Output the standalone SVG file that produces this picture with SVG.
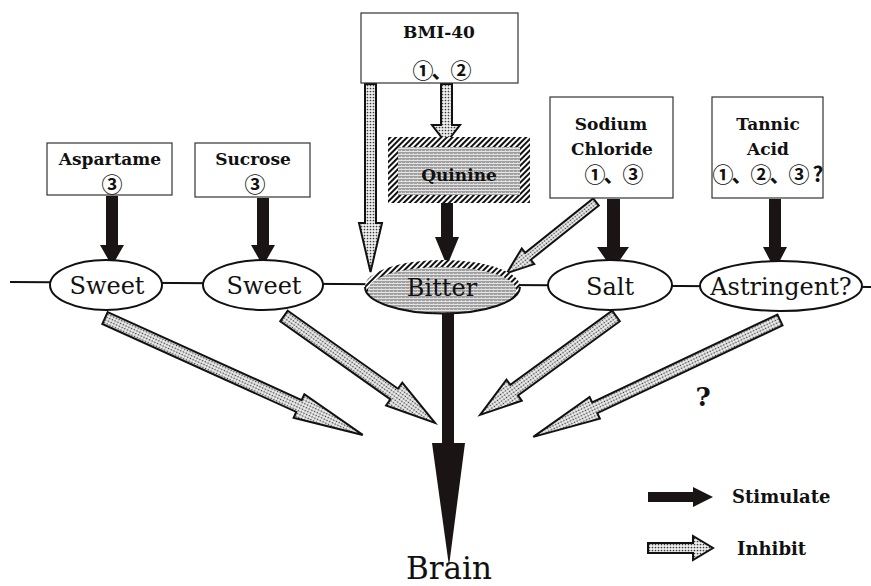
<svg xmlns="http://www.w3.org/2000/svg" width="871" height="586" viewBox="0 0 871 586">
<defs>
<pattern id="dots" width="3" height="3" patternUnits="userSpaceOnUse">
<rect width="3" height="3" fill="#efefef"/>
<circle cx="1.5" cy="1.5" r="0.85" fill="#3a3a3a"/>
</pattern>
<pattern id="gray" width="4" height="3" patternUnits="userSpaceOnUse">
<rect width="4" height="3" fill="#a0a0a0"/>
<rect y="1" width="4" height="1" fill="#e4e4e4"/>
<rect x="1" y="0" width="1" height="1" fill="#d0d0d0"/>
</pattern>
<pattern id="hatch" width="4" height="4" patternUnits="userSpaceOnUse" patternTransform="rotate(45)">
<rect width="4" height="4" fill="#fff"/>
<rect width="2" height="4" fill="#111"/>
</pattern>
</defs>
<style>
.box{fill:#fff;stroke:#333;stroke-width:1.2}
.ell{fill:#fff;stroke:#111;stroke-width:2}
.stim{fill:#1a1414;stroke:none}
.inh{fill:url(#dots);stroke:#111;stroke-width:2;stroke-linejoin:miter}
.bl{font-family:"DejaVu Serif","Liberation Serif",serif;font-weight:bold;font-size:17px;fill:#111;text-anchor:middle}
.num{font-family:"Noto Sans CJK JP","DejaVu Sans",sans-serif;font-weight:bold;font-size:21px;letter-spacing:-2px;fill:#111;text-anchor:middle}
.lab{font-family:"DejaVu Serif","Liberation Serif",serif;font-size:24px;fill:#111;text-anchor:middle}
.leg{font-family:"DejaVu Serif","Liberation Serif",serif;font-weight:bold;font-size:18px;fill:#111}
</style>

<g id="connectors">
<line x1="10" y1="282" x2="871" y2="287" stroke="#111" stroke-width="2"/>
<polygon class="stim" points="106,196 118,196 118,245 124,245 112,266 100,245 106,245"/>
<polygon class="stim" points="257,198 269,198 269,245 275,245 263,266 251,245 257,245"/>
<polygon class="stim" points="441,203 453,203 453,237 459,237 447,266 435,237 441,237"/>
<polygon class="stim" points="607,199 620,199 620,247 629,247 613,270 597,247 607,247"/>
<polygon class="stim" points="769,199 781,199 781,247 787,247 775,270 763,247 769,247"/>
<polygon class="inh" points="365,84 376,84 376,223 382,223 370.5,272 359,223 365,223"/>
<polygon class="inh" points="441,84 452,84 452,125 460,125 446,143 432,125 441,125"/>
<polygon class="inh" points="0,-4.5 87,-4.5 87,-10 114,0 87,10 87,4.5 0,4.5" transform="translate(596,202) rotate(141.4)"/>
</g>

<g id="bmi40">
<rect class="box" x="361" y="13" width="157" height="70"/>
<text class="bl" x="439" y="38" font-size="18">BMI-40</text>
<text class="num" x="441" y="78">①、②</text>
</g>

<g id="aspartame">
<rect class="box" x="47" y="143" width="125" height="52"/>
<text class="bl" x="110" y="165">Aspartame</text>
<text class="num" x="111" y="192" font-size="19">③</text>
</g>

<g id="sucrose">
<rect class="box" x="195" y="143" width="115" height="54"/>
<text class="bl" x="253" y="165">Sucrose</text>
<text class="num" x="254" y="192" font-size="19">③</text>
</g>

<g id="quinine">
<rect x="388" y="137" width="142" height="66" fill="url(#hatch)"/>
<rect x="398" y="147" width="122" height="48" fill="url(#gray)"/>
<text class="bl" x="459" y="181" font-size="16.5">Quinine</text>
</g>

<g id="sodium">
<rect class="box" x="550" y="97" width="123" height="101"/>
<text class="bl" x="611" y="130">Sodium</text>
<text class="bl" x="612" y="155">Chloride</text>
<text class="num" x="613" y="182">①、③</text>
</g>

<g id="tannic">
<rect class="box" x="712" y="97" width="111" height="101"/>
<text class="bl" x="768" y="130">Tannic</text>
<text class="bl" x="768" y="155">Acid</text>
<text class="num" x="768" y="182" font-size="19" letter-spacing="-1.5">①、②、③<tspan dx="5" letter-spacing="0">?</tspan></text>
</g>

<g id="sweet1">
<ellipse class="ell" cx="106" cy="285" rx="56" ry="25"/>
<text class="lab" x="107" y="294">Sweet</text>
</g>

<g id="sweet2">
<ellipse class="ell" cx="263" cy="285" rx="60" ry="25"/>
<text class="lab" x="264" y="294">Sweet</text>
</g>

<g id="bitter">
<ellipse cx="442.5" cy="286.5" rx="77.5" ry="26.5" fill="url(#hatch)"/>
<ellipse cx="442" cy="290" rx="74" ry="23" fill="url(#gray)"/>
<path d="M365,287 A77.5,26.5 0 0 0 520,287" fill="none" stroke="#111" stroke-width="2"/>
<text class="lab" x="442" y="296">Bitter</text>
</g>

<g id="salt">
<ellipse class="ell" cx="610" cy="285" rx="62" ry="25"/>
<text class="lab" x="610" y="295">Salt</text>
</g>

<g id="astringent">
<ellipse class="ell" cx="781" cy="286" rx="81" ry="25"/>
<text class="lab" x="781" y="295" font-size="25">Astringent?</text>
</g>

<g id="brain-arrows">
<polygon class="stim" points="442,313 454,313 454,443 465,443 449,566 432,443 442,443"/>
<polygon class="inh" points="0,-6.5 213,-6.5 213,-13 283,0 213,13 213,6.5 0,6.5" transform="translate(105,318) rotate(24.4)"/>
<polygon class="inh" points="0,-6.5 135,-6.5 135,-14 185,0 135,14 135,6.5 0,6.5" transform="translate(284,316) rotate(35.3)"/>
<polygon class="inh" points="0,-6.5 126,-6.5 126,-13 168,0 126,13 126,6.5 0,6.5" transform="translate(616,316) rotate(143.95)"/>
<polygon class="inh" points="0,-6 205,-6 205,-12 273,0 205,12 205,6 0,6" transform="translate(780,320) rotate(154.65)"/>
<text x="703" y="406" font-family="DejaVu Serif, Liberation Serif, serif" font-weight="bold" font-size="26" fill="#111" text-anchor="middle">?</text>
</g>

<g id="brain">
<text x="449" y="579" font-family="DejaVu Serif, Liberation Serif, serif" font-size="31" fill="#111" text-anchor="middle">Brain</text>
</g>

<g id="legend">
<polygon class="stim" points="648,492 693,492 693,487 713,497 693,507 693,502 648,502"/>
<text class="leg" x="732" y="503">Stimulate</text>
<polygon class="inh" points="648,543 693,543 693,536 713,548 693,560 693,553 648,553"/>
<text class="leg" x="737" y="555">Inhibit</text>
</g>
</svg>
